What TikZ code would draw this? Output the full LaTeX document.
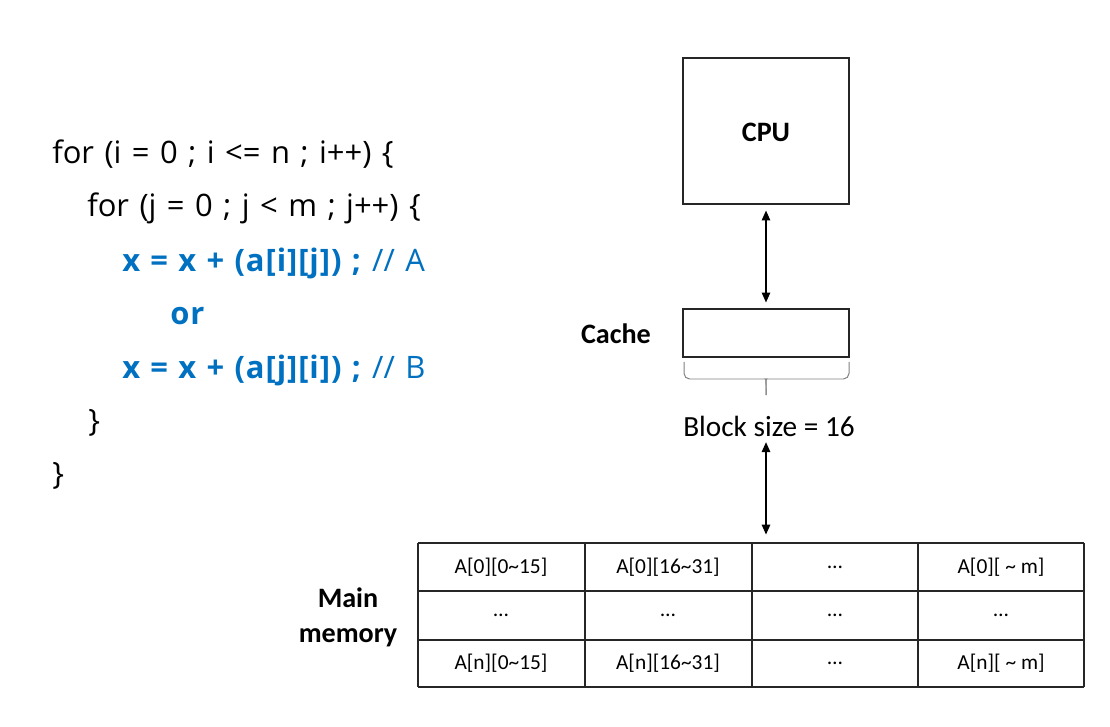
\documentclass[tikz,border=0pt]{standalone}
\usepackage{fontspec}
\setmainfont{Carlito}
\newfontfamily\codefont[WordSpace=1.3, BoldFeatures={WordSpace=1.15, LetterSpace=3}]{Open Sans}
\usetikzlibrary{arrows.meta}
\definecolor{codeblue}{RGB}{0,112,192}
\tikzset{
  box/.style={draw=black!85, line width=1.3pt, minimum width=4.15cm},
  lbl/.style={font=\fontsize{20}{25}\selectfont\bfseries, align=center},
  code/.style={font=\codefont\fontsize{22}{26}\selectfont, anchor=base west, inner sep=0pt},
  blue/.style={code, text=codeblue},
  grid/.style={draw=black!85, line width=1.1pt},
  cell/.style={font=\fontsize{15.2}{18}\selectfont},
  link/.style={line width=0.9pt, {Triangle[length=7pt,width=6pt]}-{Triangle[length=7pt,width=6pt]}},
  bracec/.style={draw=black!50, line width=0.7pt}
}
\begin{document}
\begin{tikzpicture}[x=0.025cm,y=-0.025cm]
\useasboundingbox (0,0) rectangle (1110,727);

% code
\node[code] (l1) at (52,164) {for (i = 0 ; i <= n ; i++) \{};
\node[code] (l2) at (87,217) {for (j = 0 ; j < m ; j++) \{};
\node[blue] (l3) at (122,272) {\textbf{x = x + (a[i][j]) ;} // A};
\node[blue] (l4) at (170,325) {\textbf{or}};
\node[blue] (l5) at (122,378) {\textbf{x = x + (a[j][i]) ;} // B};
\node[code] (l6) at (88,431) {\}};
\node[code] (l7) at (52,484) {\}};

% cpu and cache
\node[box, minimum height=3.65cm] (cpu) at (766,131) {};
\node[lbl] (cpulbl) at (766,132) {CPU};
\node[box, minimum height=1.2cm] (cache) at (766,333) {};
\node[lbl] (cachelbl) at (616,334) {Cache};
\draw[link, shorten <=4pt, shorten >=4pt] (cpu) -- (cache);

\draw[bracec, rounded corners=4pt] (684,362) |- (761,379) .. controls (766,379) .. (766,395);
\draw[bracec, rounded corners=4pt] (849,362) |- (771,379) .. controls (766,379) .. (766,395);
\node[font=\fontsize{20.8}{24}\selectfont, inner sep=2pt] (blk) at (769,426) {Block size = 16};

% main memory
\coordinate (memtop) at (766,543);
\draw[link, shorten <=2pt, shorten >=6pt] (memtop |- blk.south) -- (memtop);
\node[lbl] (memlbl) at (348,617) {Main\\memory};
\foreach \y in {543,591,640,687}{
\draw[grid] (418,\y)--(1084,\y);
}
\foreach \x in {418,585,752,918,1084}{
\draw[grid] (\x,543)--(\x,687);
}
\foreach \t/\x [count=\i] in {A[0][0\textasciitilde15]/501, A[0][16\textasciitilde31]/668, …/835, A[0][ \textasciitilde{} m]/1001}{
\node[cell] (top\i) at (\x,567) {\t};
}
\foreach \x [count=\i] in {501,668,835,1001}{
\node[cell] (mid\i) at (\x,615) {…};
}
\foreach \t/\x [count=\i] in {A[n][0\textasciitilde15]/501, A[n][16\textasciitilde31]/668, …/835, A[n][ \textasciitilde{} m]/1001}{
\node[cell] (bot\i) at (\x,663) {\t};
}
\end{tikzpicture}
\end{document}
